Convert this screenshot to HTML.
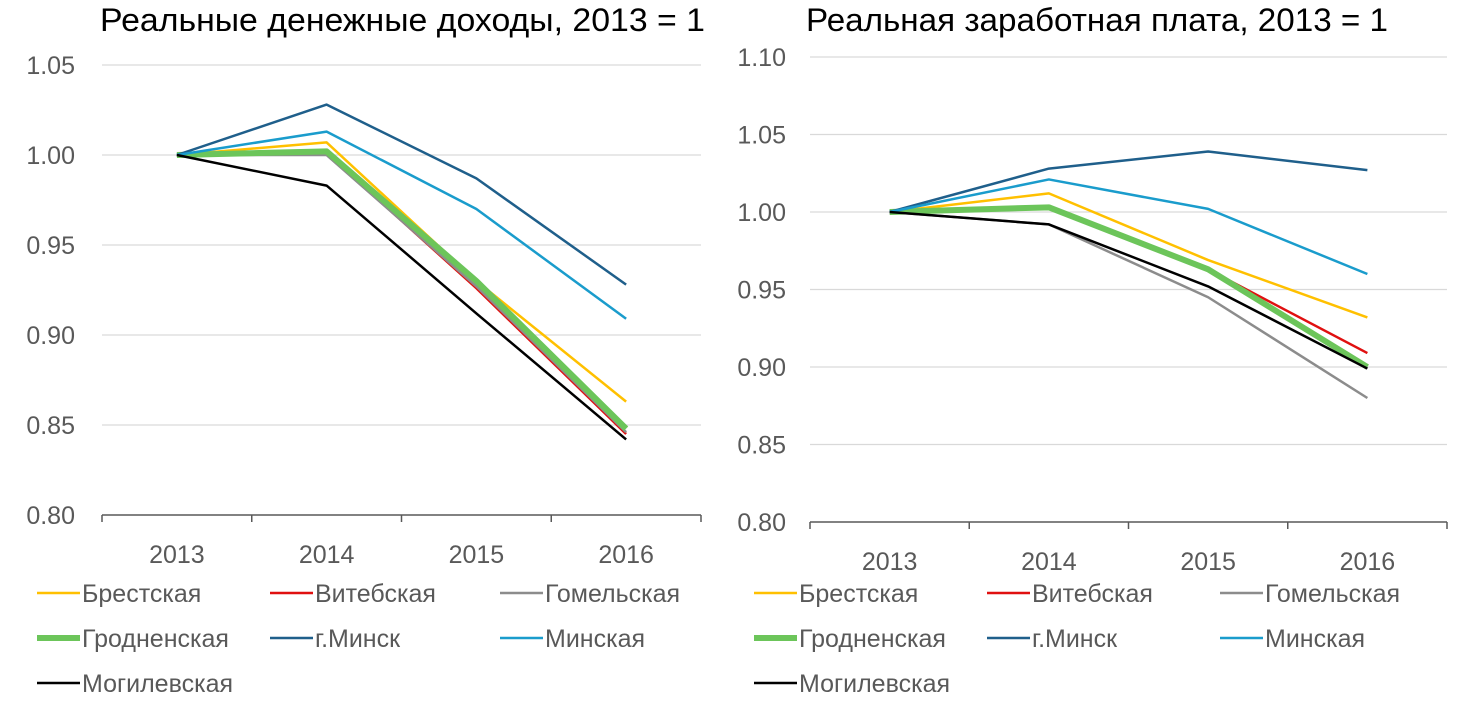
<!DOCTYPE html>
<html><head><meta charset="utf-8"><style>
body{margin:0;background:#fff;width:1460px;height:712px;overflow:hidden}
svg{display:block}
text{font-family:"Liberation Sans","DejaVu Sans",sans-serif}
</style></head><body>
<svg id="chart" width="1460" height="712" viewBox="0 0 1460 712" xmlns="http://www.w3.org/2000/svg"></svg>
<script>
const categories = ["2013","2014","2015","2016"];
const seriesNames = ["Брестская","Витебская","Гомельская","Гродненская","г.Минск","Минская","Могилевская"];
const seriesColors = ["#FFC000","#E01010","#8C8C8C","#6CC55A","#1F5F8B","#1A9CCC","#000000"];
const seriesWidths = [2.5,2.5,2.5,6,2.5,2.5,2.5];
// Left chart: real money income
const incomeBrest = [1,1.007,0.930,0.863];
const incomeVitebsk = [1,1.001,0.926,0.845];
const incomeGomel = [1,1.000,0.927,0.846];
const incomeGrodno = [1,1.002,0.930,0.848];
const incomeMinskCity = [1,1.028,0.987,0.928];
const incomeMinsk = [1,1.013,0.970,0.909];
const incomeMogilev = [1,0.983,0.912,0.842];
const incomeTicks = ["0.80","0.85","0.90","0.95","1.00","1.05"];
// Right chart: real wages
const wageBrest = [1,1.012,0.969,0.932];
const wageVitebsk = [1,1.003,0.963,0.909];
const wageGomel = [1,0.992,0.945,0.880];
const wageGrodno = [1,1.003,0.963,0.900];
const wageMinskCity = [1,1.028,1.039,1.027];
const wageMinsk = [1,1.021,1.002,0.960];
const wageMogilev = [1,0.992,0.952,0.899];
const wageTicks = ["0.80","0.85","0.90","0.95","1.00","1.05","1.10"];

const NS="http://www.w3.org/2000/svg";
const svg=document.getElementById('chart');
function mk(tag,attrs,parent){const e=document.createElementNS(NS,tag);for(const k in attrs)e.setAttribute(k,attrs[k]);(parent||svg).appendChild(e);return e;}

function drawChart(cfg){
  const g=mk('g',{});
  
  
  const yMin=0.80, yMax=parseFloat(cfg.ticks[cfg.ticks.length-1]);
  const yS=v=>cfg.y0-(v-yMin)/(yMax-yMin)*(cfg.y0-cfg.y1);
  const step=(cfg.x1-cfg.x0)/categories.length;
  const xS=i=>cfg.x0+step*(i+0.5);
  const t=mk('text',{x:cfg.titleX,y:31,'font-size':32,fill:'#000',textLength:cfg.titleW,lengthAdjust:'spacingAndGlyphs'},g);
  t.textContent=cfg.title;
  
  
  cfg.ticks.forEach(tk=>{
    const v=parseFloat(tk), y=yS(v);
    if(v>yMin){const gl=mk('line',{x1:cfg.x0,x2:cfg.x1,y1:y,y2:y,stroke:'#d9d9d9','stroke-width':1.3},g);
      
      }
    const lt=mk('text',{x:cfg.labelX,y:y+9,'font-size':25,fill:'#595959','text-anchor':'end'},g);
    lt.textContent=tk;
    
    
  });
  const ax=mk('line',{x1:cfg.x0,x2:cfg.x1,y1:cfg.y0,y2:cfg.y0,stroke:'#595959','stroke-width':1.5},g);
  
  
  for(let i=0;i<=categories.length;i++){
    const x=cfg.x0+step*i;
    mk('line',{x1:x,x2:x,y1:cfg.y0,y2:cfg.y0+7,stroke:'#595959','stroke-width':1.5},g);
  }
  categories.forEach((c,i)=>{
    const ct=mk('text',{x:xS(i),y:cfg.y0+48,'font-size':25,fill:'#595959','text-anchor':'middle'},g);
    ct.textContent=c;
    
    
  });
  cfg.series.forEach((vals,s)=>{
    const pl=mk('polyline',{points:vals.map((v,i)=>xS(i)+','+yS(v)).join(' '),fill:'none',stroke:seriesColors[s],'stroke-width':seriesWidths[s],'stroke-linejoin':'round'},g);
    
    
  });
  seriesNames.forEach((n,s)=>{
    const col=s%3,row=Math.floor(s/3);
    const lx=cfg.legX[col], ly=593+row*45;
    const lg=mk('g',{},g);
    
    
    mk('line',{x1:lx,x2:lx+43,y1:ly,y2:ly,stroke:seriesColors[s],'stroke-width':s===3?6:2.5},lg);
    const tx=mk('text',{x:lx+45,y:ly+9,'font-size':25,fill:'#595959'},lg);
    tx.textContent=n;
  });
}
drawChart({name:'income-chart',title:'Реальные денежные доходы, 2013 = 1',titleX:100,titleW:605,x0:102,x1:701,y0:515,y1:65,labelX:75,ticks:incomeTicks,
  series:[incomeBrest,incomeVitebsk,incomeGomel,incomeGrodno,incomeMinskCity,incomeMinsk,incomeMogilev],legX:[37,270,500]});
drawChart({name:'wage-chart',title:'Реальная заработная плата, 2013 = 1',titleX:806,titleW:582,x0:810,x1:1447,y0:522,y1:57,labelX:786,ticks:wageTicks,
  series:[wageBrest,wageVitebsk,wageGomel,wageGrodno,wageMinskCity,wageMinsk,wageMogilev],legX:[754,987,1220]});
</script>
</body></html>
